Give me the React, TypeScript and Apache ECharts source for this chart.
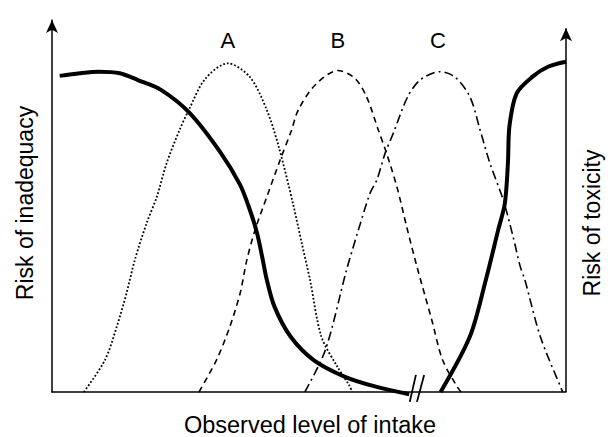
import React, { useEffect, useRef } from "react";
import * as echarts from "echarts";

// Curves (x: observed intake 0-100, y: risk 0-100)
const inadequacy: [number, number][] = [
  [1.5, 83.2], [5.4, 83.9], [9.1, 84.3], [13.2, 83.9], [16.7, 82.1], [21.2, 79.5],
  [26.8, 73.4], [32.7, 63.2], [36.6, 54.5], [38.5, 47.9], [39.9, 41.8],
  [40.9, 35.5], [41.8, 29.5], [43.3, 22.4], [46.4, 14.6], [50.9, 8.4], [57.0, 4.0],
  [63.0, 1.4], [69.5, -0.6],
];
const toxicity: [number, number][] = [
  [75.6, 0], [81.3, 14.6], [84.4, 29.5], [86.8, 42.6], [88.1, 49.6], [88.7, 60.2],
  [89.0, 70.0], [90.4, 78.6], [93.5, 83.0], [96.5, 85.6], [100, 86.9],
];
const intakeA: [number, number][] = [
  [6.2, 0], [10.3, 8.4], [12.6, 17.2], [14.5, 26.0], [16.1, 34.7], [18.4, 44.4],
  [20.4, 51.4], [22.3, 60.2], [24.8, 68.9], [26.6, 74.2], [29.8, 82.4], [34.2, 86.5],
  [38.5, 82.9], [41.8, 74.2], [44.1, 64.6], [46.9, 49.5], [48.6, 39.1], [50.2, 29.5],
  [52.4, 14.6], [55.5, 6.7], [57.8, 1.8], [58.4, 0],
];
const intakeB: [number, number][] = [
  [28.6, 0], [32.0, 8.4], [34.6, 17.2], [36.6, 26.0], [37.9, 34.7], [39.5, 42.6],
  [41.8, 51.4], [44.4, 61.1], [46.6, 68.9], [47.9, 74.2], [51.2, 80.8], [55.6, 84.6],
  [58.9, 82.6], [61.2, 77.7], [63.5, 68.9], [65.1, 62.8], [67.1, 54.0], [69.0, 43.5],
  [71.0, 33.0], [73.9, 18.9], [76.0, 8.4], [79.0, 1.0], [79.6, 0],
];
const intakeC: [number, number][] = [
  [49.2, 0], [53.2, 11.1], [57.3, 32.1], [59.6, 42.6], [61.9, 52.4], [63.2, 55.8],
  [64.8, 62.8], [66.4, 68.1], [69.2, 77.7], [71.6, 82.1], [75.4, 84.3], [78.4, 82.9],
  [81.3, 77.7], [83.3, 68.9], [85.2, 60.2], [87.8, 50.5], [89.7, 40.9], [91.1, 33.0],
  [92.0, 29.5], [95.0, 14.6], [99.2, 0.5], [99.4, 0],
];
const breakMarkOne: [number, number][] = [[69.6, -2.6], [70.8, 4.5]];
const breakMarkTwo: [number, number][] = [[71.0, -2.6], [72.4, 4.5]];
const rightAxisTop = 95.7;
const peakLabels = [
  { name: "A", value: [34.2, 92.4] },
  { name: "B", value: [55.6, 92.4] },
  { name: "C", value: [75.1, 92.4] },
];
const xTitle = "Observed level of intake";
const leftTitle = "Risk of inadequacy";
const rightTitle = "Risk of toxicity";

const FONT = "'Liberation Sans', Arial, Helvetica, sans-serif";

export default function App() {
  const ref = useRef<HTMLDivElement>(null);
  useEffect(() => {
    if (!ref.current) return;
    const chart = echarts.init(ref.current, null, { renderer: "svg" });
    const curve = (data: [number, number][], lineStyle: any, extra: any = {}) => ({
      type: "line",
      data,
      symbol: "none",
      showSymbol: false,
      smooth: 0.3,
      clip: false,
      silent: true,
      lineStyle: { color: "#000", ...lineStyle },
      ...extra,
    });
    chart.setOption({
      animation: false,
      backgroundColor: "#fff",
      grid: { left: 52, right: 47, top: 20, bottom: 45 },
      xAxis: {
        type: "value",
        min: 0,
        max: 100,
        axisLine: { show: true, lineStyle: { color: "#000", width: 1.5 } },
        axisTick: { show: false },
        axisLabel: { show: false },
        splitLine: { show: false },
      },
      yAxis: {
        type: "value",
        min: 0,
        max: 97.9,
        axisLine: {
          show: true,
          symbol: ["none", "arrow"],
          symbolSize: [9, 13],
          lineStyle: { color: "#000", width: 1.5 },
        },
        axisTick: { show: false },
        axisLabel: { show: false },
        splitLine: { show: false },
      },
      series: [
        curve(intakeA, { width: 1.8, type: [1.8, 2] }),
        curve(intakeB, { width: 1.6, type: [6, 4.5] }),
        curve(intakeC, { width: 1.6, type: [9, 4, 2, 4] }),
        curve(inadequacy, { width: 4 }),
        curve(toxicity, { width: 4 }, {
          markLine: {
            silent: true,
            symbol: ["none", "arrow"],
            symbolSize: [9, 13],
            label: { show: false },
            lineStyle: { color: "#000", width: 1.5, type: "solid" },
            data: [[{ coord: [100, 0] }, { coord: [100, rightAxisTop] }]],
          },
        }),
        curve(breakMarkOne, { width: 1.8 }, { smooth: false }),
        curve(breakMarkTwo, { width: 1.8 }, { smooth: false }),
        {
          type: "scatter",
          data: peakLabels,
          symbolSize: 0,
          silent: true,
          itemStyle: { opacity: 1, color: "#000" },
          label: {
            show: true,
            position: "inside",
            formatter: "{b}",
            color: "#000",
            opacity: 1,
            textBorderWidth: 0,
            textBorderColor: "transparent",
            fontSize: 22,
            fontFamily: FONT,
          },
        },
      ],
      graphic: [
        {
          type: "text",
          x: 25,
          y: 203,
          rotation: Math.PI / 2,
          style: { text: leftTitle, fill: "#000", fontSize: 23, fontFamily: FONT, align: "center", verticalAlign: "middle" },
        },
        {
          type: "text",
          x: 592,
          y: 223,
          rotation: Math.PI / 2,
          style: { text: rightTitle, fill: "#000", fontSize: 23, fontFamily: FONT, align: "center", verticalAlign: "middle" },
        },
        {
          type: "text",
          x: 310,
          y: 425,
          style: { text: xTitle, fill: "#000", fontSize: 23.5, fontFamily: FONT, align: "center", verticalAlign: "middle" },
        },
      ],
    });
    return () => chart.dispose();
  }, []);
  return (
    <div
      ref={ref}
      style={{ position: "fixed", left: 0, top: 0, width: 613, height: 437, background: "#fff" }}
    />
  );
}
